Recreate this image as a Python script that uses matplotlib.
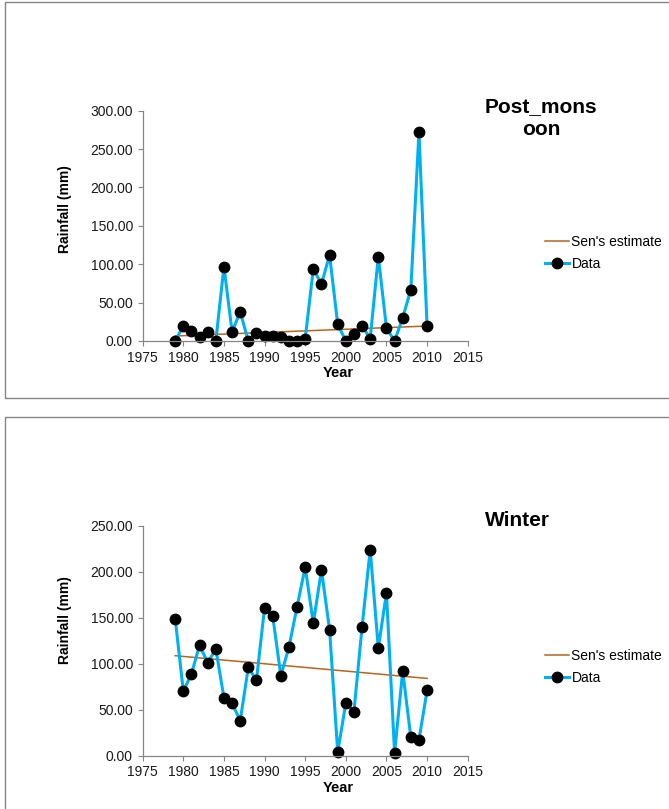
import numpy as np
import matplotlib
matplotlib.use("Agg")
import matplotlib.pyplot as plt
from matplotlib.patches import Rectangle
from matplotlib.ticker import FormatStrFormatter

plt.rcParams['font.family'] = ['Liberation Sans', 'DejaVu Sans']

# --- DATA ---
years = list(range(1979, 2011))

post_monsoon = [0, 20, 13, 5, 12, 0, 97, 12, 38, 0, 11, 7, 6, 5, 0, 0,
                3, 94, 74, 112, 22, 0, 9, 20, 3, 110, 17, 0, 30, 67, 272, 19]
post_sen = [6.5, 19.5]          # Sen's estimate at 1979 and 2010

winter = [149, 70, 89, 120, 101, 116, 63, 57, 38, 96, 82, 161, 152, 87, 118, 162,
          205, 144, 202, 137, 4, 57, 48, 140, 224, 117, 177, 3, 92, 20, 17, 71]
winter_sen = [108.7, 84.0]

sen_years = [1979, 2010]
x_ticks = [1975, 1980, 1985, 1990, 1995, 2000, 2005, 2010, 2015]

# --- FIGURE (pixel helpers) ---
W, H = 669, 809
fig = plt.figure(figsize=(W / 100, H / 100), dpi=100)

def px_axes(x0, y0, x1, y1):
    return fig.add_axes([x0 / W, 1 - y1 / H, (x1 - x0) / W, (y1 - y0) / H])

blue = '#00B0F0'
brown = '#B5651D'
spine_col = '#868686'

# panel borders
for top, bottom in [(2, 398), (417, 830)]:
    fig.patches.append(Rectangle((5 / W, 1 - bottom / H), 700 / W, (bottom - top) / H,
                                 transform=fig.transFigure, fill=False,
                                 edgecolor=spine_col, linewidth=1.0))

def panel(ax, vals, sen, ymax, title, title_xy, ylabel_y, year_y, leg_y):
    ax.plot(sen_years, sen, color=brown, linewidth=1.1, label="Sen's estimate")
    ax.plot(years, vals, color=blue, linewidth=2.2, marker='o', markersize=7.5,
            markerfacecolor='black', markeredgecolor='black',
            solid_joinstyle='miter', label='Data')
    ax.set_xlim(1975, 2015)
    ax.set_ylim(0, ymax)
    ax.set_xticks(x_ticks)
    ax.set_yticks(np.arange(0, ymax + 1, 50))
    ax.yaxis.set_major_formatter(FormatStrFormatter('%.2f'))
    for s in ['top', 'right']:
        ax.spines[s].set_visible(False)
    for s in ['left', 'bottom']:
        ax.spines[s].set_color(spine_col)
        ax.spines[s].set_linewidth(0.9)
    ax.tick_params(colors=spine_col, labelcolor='#1a1a1a', labelsize=10,
                   length=3.5, width=0.8, pad=3.5)
    for ln in ax.lines:
        ln.set_clip_on(False)

    fig.text(title_xy[0] / W, 1 - title_xy[1] / H, title, ha='center', va='center',
             fontsize=15, fontweight='bold', linespacing=1.3)
    fig.text(65 / W, 1 - ylabel_y / H, 'Rainfall (mm)', rotation=90, ha='center',
             va='center', fontsize=10, fontweight='bold')
    fig.text(338 / W, 1 - year_y / H, 'Year', ha='center', va='center',
             fontsize=10.5, fontweight='bold')
    ax.legend(loc='upper left', bbox_to_anchor=(545 / W, 1 - leg_y / H),
              bbox_transform=fig.transFigure, frameon=False, fontsize=10,
              handlelength=1.7, handletextpad=0.2, labelspacing=0.6,
              borderaxespad=0, borderpad=0)

ax1 = px_axes(142.7, 110.7, 467.7, 341)
panel(ax1, post_monsoon, post_sen, 300, 'Post_mons\noon', (541, 118), 209, 373, 235)

ax2 = px_axes(142.7, 525.7, 467.7, 755.7)
panel(ax2, winter, winter_sen, 250, 'Winter', (517, 520), 620, 788, 649)

fig.savefig('out.png', dpi=100)
